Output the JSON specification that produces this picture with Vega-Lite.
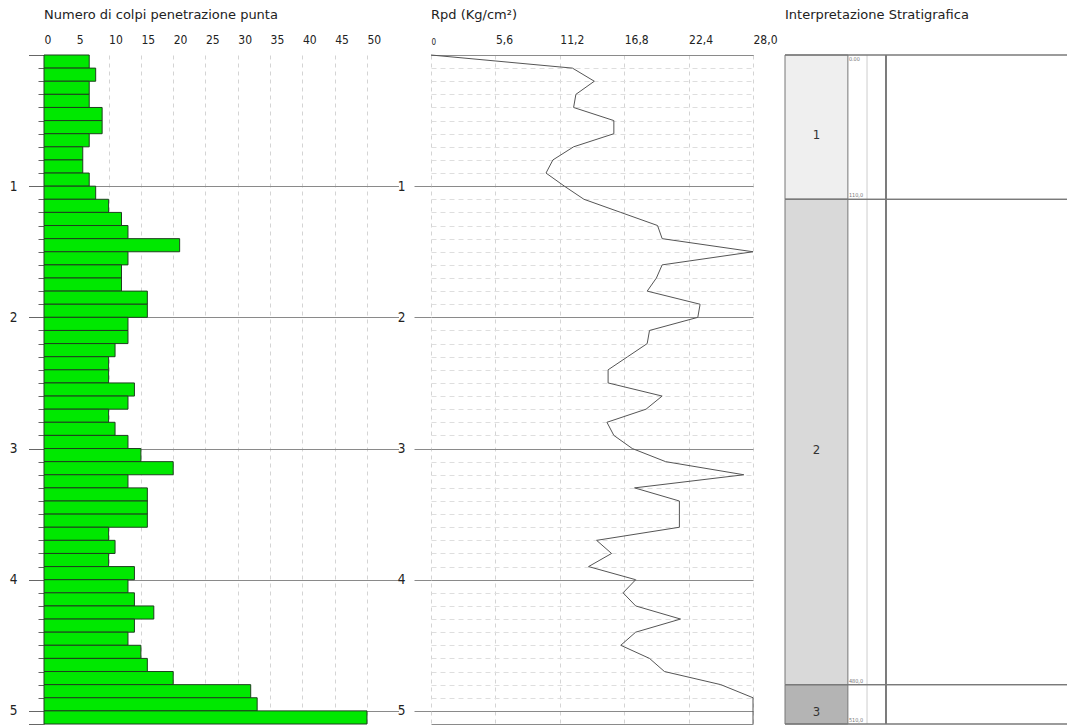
{
  "$schema": "https://vega.github.io/schema/vega-lite/v6.json",
  "background": "white",
  "padding": {"left": 9, "top": 9, "right": 0, "bottom": 0},
  "spacing": 32,
  "bounds": "flush",
  "config": {
    "view": {"stroke": null},
    "font": "DejaVu Sans Condensed",
    "title": {"font": "DejaVu Sans", "fontSize": 13, "fontWeight": "normal", "anchor": "start", "frame": "group", "color": "#222222"},
    "axis": {"labelFont": "DejaVu Sans Condensed", "labelColor": "#222222", "labelFontSize": 12, "tickCount": 60}
  },
  "datasets": {
    "colpi": [
      {"top": 0.0, "bottom": 0.1, "n": 7}, {"top": 0.1, "bottom": 0.2, "n": 8}, {"top": 0.2, "bottom": 0.3, "n": 7},
      {"top": 0.3, "bottom": 0.4, "n": 7}, {"top": 0.4, "bottom": 0.5, "n": 9}, {"top": 0.5, "bottom": 0.6, "n": 9},
      {"top": 0.6, "bottom": 0.7, "n": 7}, {"top": 0.7, "bottom": 0.8, "n": 6}, {"top": 0.8, "bottom": 0.9, "n": 6},
      {"top": 0.9, "bottom": 1.0, "n": 7}, {"top": 1.0, "bottom": 1.1, "n": 8}, {"top": 1.1, "bottom": 1.2, "n": 10},
      {"top": 1.2, "bottom": 1.3, "n": 12}, {"top": 1.3, "bottom": 1.4, "n": 13}, {"top": 1.4, "bottom": 1.5, "n": 21},
      {"top": 1.5, "bottom": 1.6, "n": 13}, {"top": 1.6, "bottom": 1.7, "n": 12}, {"top": 1.7, "bottom": 1.8, "n": 12},
      {"top": 1.8, "bottom": 1.9, "n": 16}, {"top": 1.9, "bottom": 2.0, "n": 16}, {"top": 2.0, "bottom": 2.1, "n": 13},
      {"top": 2.1, "bottom": 2.2, "n": 13}, {"top": 2.2, "bottom": 2.3, "n": 11}, {"top": 2.3, "bottom": 2.4, "n": 10},
      {"top": 2.4, "bottom": 2.5, "n": 10}, {"top": 2.5, "bottom": 2.6, "n": 14}, {"top": 2.6, "bottom": 2.7, "n": 13},
      {"top": 2.7, "bottom": 2.8, "n": 10}, {"top": 2.8, "bottom": 2.9, "n": 11}, {"top": 2.9, "bottom": 3.0, "n": 13},
      {"top": 3.0, "bottom": 3.1, "n": 15}, {"top": 3.1, "bottom": 3.2, "n": 20}, {"top": 3.2, "bottom": 3.3, "n": 13},
      {"top": 3.3, "bottom": 3.4, "n": 16}, {"top": 3.4, "bottom": 3.5, "n": 16}, {"top": 3.5, "bottom": 3.6, "n": 16},
      {"top": 3.6, "bottom": 3.7, "n": 10}, {"top": 3.7, "bottom": 3.8, "n": 11}, {"top": 3.8, "bottom": 3.9, "n": 10},
      {"top": 3.9, "bottom": 4.0, "n": 14}, {"top": 4.0, "bottom": 4.1, "n": 13}, {"top": 4.1, "bottom": 4.2, "n": 14},
      {"top": 4.2, "bottom": 4.3, "n": 17}, {"top": 4.3, "bottom": 4.4, "n": 14}, {"top": 4.4, "bottom": 4.5, "n": 13},
      {"top": 4.5, "bottom": 4.6, "n": 15}, {"top": 4.6, "bottom": 4.7, "n": 16}, {"top": 4.7, "bottom": 4.8, "n": 20},
      {"top": 4.8, "bottom": 4.9, "n": 32}, {"top": 4.9, "bottom": 5.0, "n": 33}, {"top": 5.0, "bottom": 5.1, "n": 50}
    ],
    "rpd": [
      {"depth": 0.0, "rpd": 0}, {"depth": 0.1, "rpd": 12.3}, {"depth": 0.2, "rpd": 14.2}, {"depth": 0.3, "rpd": 12.6},
      {"depth": 0.4, "rpd": 12.4}, {"depth": 0.5, "rpd": 15.9}, {"depth": 0.6, "rpd": 15.9}, {"depth": 0.7, "rpd": 12.4},
      {"depth": 0.8, "rpd": 10.6}, {"depth": 0.9, "rpd": 10.0}, {"depth": 1.0, "rpd": 11.6}, {"depth": 1.1, "rpd": 13.3},
      {"depth": 1.2, "rpd": 16.5}, {"depth": 1.3, "rpd": 19.7}, {"depth": 1.4, "rpd": 20.1}, {"depth": 1.5, "rpd": 28.0},
      {"depth": 1.6, "rpd": 20.1}, {"depth": 1.7, "rpd": 19.6}, {"depth": 1.8, "rpd": 18.8}, {"depth": 1.9, "rpd": 23.4},
      {"depth": 2.0, "rpd": 23.2}, {"depth": 2.1, "rpd": 19.0}, {"depth": 2.2, "rpd": 18.8}, {"depth": 2.3, "rpd": 17.1},
      {"depth": 2.4, "rpd": 15.4}, {"depth": 2.5, "rpd": 15.4}, {"depth": 2.6, "rpd": 20.1}, {"depth": 2.7, "rpd": 18.7},
      {"depth": 2.8, "rpd": 15.3}, {"depth": 2.9, "rpd": 15.9}, {"depth": 3.0, "rpd": 17.5}, {"depth": 3.1, "rpd": 20.4},
      {"depth": 3.2, "rpd": 27.2}, {"depth": 3.3, "rpd": 17.7}, {"depth": 3.4, "rpd": 21.6}, {"depth": 3.5, "rpd": 21.6},
      {"depth": 3.6, "rpd": 21.6}, {"depth": 3.7, "rpd": 14.4}, {"depth": 3.8, "rpd": 15.7}, {"depth": 3.9, "rpd": 13.7},
      {"depth": 4.0, "rpd": 17.8}, {"depth": 4.1, "rpd": 16.7}, {"depth": 4.2, "rpd": 17.8}, {"depth": 4.3, "rpd": 21.7},
      {"depth": 4.4, "rpd": 17.8}, {"depth": 4.5, "rpd": 16.5}, {"depth": 4.6, "rpd": 19.0}, {"depth": 4.7, "rpd": 20.3},
      {"depth": 4.8, "rpd": 25.2}, {"depth": 4.9, "rpd": 28.0}, {"depth": 5.0, "rpd": 28.0}, {"depth": 5.1, "rpd": 28.0}
    ],
    "strati": [
      {"strato": "1", "top": 0, "bottom": 1.1, "quota": "110,0", "quota_top": "0.00"},
      {"strato": "2", "top": 1.1, "bottom": 4.8, "quota": "480,0", "quota_top": ""},
      {"strato": "3", "top": 4.8, "bottom": 5.1, "quota": "510,0", "quota_top": ""}
    ]
  },
  "hconcat": [
    {
      "width": 354.5,
      "height": 669,
      "title": {"text": "Numero di colpi penetrazione punta", "offset": 11},
      "layer": [
        {
          "data": {"name": "colpi"},
          "mark": {"type": "bar", "fill": "#00e800", "stroke": "#1f3f1f", "strokeWidth": 1},
          "encoding": {
            "x": {
              "field": "n", "type": "quantitative",
              "scale": {"domain": [0, 54.88], "nice": false, "zero": true},
              "axis": {
                "orient": "top", "title": null, "values": [0, 5, 10, 15, 20, 25, 30, 35, 40, 45, 50],
                "tickCount": 60,
                "labelAlign": "left", "labelPadding": 9, "ticks": false, "domain": false,
                "labelOverlap": false, "labelFlush": false,
                "grid": true, "gridColor": "#d4d4d4", "gridDash": [4, 4]
              }
            },
            "x2": {"datum": 0},
            "y": {
              "field": "top", "type": "quantitative",
              "scale": {"domain": [0, 5.1], "reverse": true, "nice": false, "zero": false},
              "axis": {
                "orient": "left", "title": null,
                "values": [0,0.1,0.2,0.3,0.4,0.5,0.6,0.7,0.8,0.9,1,1.1,1.2,1.3,1.4,1.5,1.6,1.7,1.8,1.9,2,2.1,2.2,2.3,2.4,2.5,2.6,2.7,2.8,2.9,3,3.1,3.2,3.3,3.4,3.5,3.6,3.7,3.8,3.9,4,4.1,4.2,4.3,4.4,4.5,4.6,4.7,4.8,4.9,5,5.1],
                "tickCount": 60,
                "labelExpr": "datum.value % 1 === 0 && datum.value > 0 ? '' + datum.value : ''",
                "labelOverlap": false, "labelFlush": false, "labelFontSize": 13.5,
                "labelPadding": -4, "domain": false,
                "tickSize": 31, "tickColor": "#666666",
                "tickDash": {"condition": {"test": "datum.value % 1 !== 0 && datum.value !== 5.1", "value": [6, 40]}, "value": [15.5, 40]},
                "grid": true,
                "gridColor": "#8a8a8a",
                "gridOpacity": {"condition": {"test": "datum.value % 1 === 0 && datum.value > 0", "value": 1}, "value": 0}
              }
            },
            "y2": {"field": "bottom"}
          }
        },
        {
          "mark": {"type": "rule", "color": "#8a8a8a", "strokeWidth": 1},
          "encoding": {
            "x": {"datum": -4.7, "type": "quantitative"},
            "x2": {"datum": 50},
            "y": {"datum": 0, "type": "quantitative"}
          }
        }
      ]
    },
    {
      "width": 322,
      "height": 669,
      "title": {"text": "Rpd (Kg/cm²)", "offset": 11},
      "data": {"name": "rpd"},
      "mark": {"type": "line", "color": "#555555", "strokeWidth": 1},
      "encoding": {
        "x": {
          "field": "rpd", "type": "quantitative",
          "scale": {"domain": [0, 28], "nice": false, "zero": true},
          "axis": {
            "orient": "top", "title": null, "values": [0, 5.6, 11.2, 16.8, 22.4, 28],
            "tickCount": 60,
            "labelExpr": "datum.value === 0 ? '0' : replace(format(datum.value, '.1f'), '.', ',')",
            "labelFontSize": {"condition": {"test": "datum.value === 0", "value": 8}, "value": 12},
            "labelAlign": "left", "labelPadding": 9, "ticks": false,
            "labelOverlap": false, "labelFlush": false,
            "domain": true, "domainColor": "#8a8a8a",
            "grid": true, "gridColor": "#d4d4d4", "gridDash": [4, 4]
          }
        },
        "y": {
          "field": "depth", "type": "quantitative",
          "scale": {"domain": [0, 5.1], "reverse": true, "nice": false, "zero": false},
          "axis": {
            "orient": "left", "title": null,
            "values": [0,0.1,0.2,0.3,0.4,0.5,0.6,0.7,0.8,0.9,1,1.1,1.2,1.3,1.4,1.5,1.6,1.7,1.8,1.9,2,2.1,2.2,2.3,2.4,2.5,2.6,2.7,2.8,2.9,3,3.1,3.2,3.3,3.4,3.5,3.6,3.7,3.8,3.9,4,4.1,4.2,4.3,4.4,4.5,4.6,4.7,4.8,4.9,5,5.1],
            "tickCount": 60,
            "labelExpr": "datum.value % 1 === 0 && datum.value > 0 ? '' + datum.value : ''",
            "labelOverlap": false, "labelFlush": false, "labelFontSize": 13.5,
            "labelPadding": 9, "domain": false,
            "tickSize": 17, "tickColor": "#8a8a8a",
            "tickOpacity": {"condition": {"test": "datum.value % 1 === 0 && datum.value > 0", "value": 1}, "value": 0},
            "grid": true,
            "gridColor": {"condition": {"test": "datum.value % 1 === 0 || datum.value === 5.1", "value": "#8a8a8a"}, "value": "#dedede"},
            "gridDash": {"condition": {"test": "datum.value % 1 === 0 || datum.value === 5.1", "value": []}, "value": [5, 4]}
          }
        },
        "order": {"field": "depth", "type": "quantitative"}
      }
    },
    {
      "width": 282,
      "height": 669,
      "title": {"text": "Interpretazione Stratigrafica", "offset": 32},
      "data": {"name": "strati"},
      "layer": [
        {
          "mark": {"type": "rect", "stroke": "#777777", "strokeWidth": 1},
          "encoding": {
            "x": {"datum": 0, "type": "quantitative", "scale": {"domain": [0, 100], "nice": false, "zero": false}, "axis": null},
            "x2": {"datum": 22.3},
            "y": {"field": "top", "type": "quantitative", "scale": {"domain": [0, 5.1], "reverse": true, "nice": false, "zero": false}, "axis": null},
            "y2": {"field": "bottom"},
            "fill": {"field": "strato", "type": "nominal", "scale": {"domain": ["1", "2", "3"], "range": ["#efefef", "#d9d9d9", "#b4b4b4"]}, "legend": null}
          }
        },
        {
          "transform": [{"calculate": "(datum.top + datum.bottom) / 2", "as": "mid"}],
          "mark": {"type": "text", "baseline": "top", "align": "center", "fontSize": 13, "color": "#333333", "dy": 2},
          "encoding": {
            "x": {"datum": 11.2, "type": "quantitative"},
            "y": {"field": "mid", "type": "quantitative"},
            "text": {"field": "strato"}
          }
        },
        {
          "mark": {"type": "text", "baseline": "bottom", "align": "left", "fontSize": 5.5, "color": "#777777", "dx": 1, "dy": -1},
          "encoding": {
            "x": {"datum": 22.3, "type": "quantitative"},
            "y": {"field": "bottom", "type": "quantitative"},
            "text": {"field": "quota"}
          }
        },
        {
          "mark": {"type": "text", "baseline": "top", "align": "left", "fontSize": 5.5, "color": "#777777", "dx": 1, "dy": 2},
          "encoding": {
            "x": {"datum": 22.3, "type": "quantitative"},
            "y": {"field": "top", "type": "quantitative"},
            "text": {"field": "quota_top"}
          }
        },
        {
          "mark": {"type": "rule", "color": "#e2e2e2", "strokeWidth": 1},
          "encoding": {
            "x": {"datum": 29.1, "type": "quantitative"},
            "y": {"datum": 0, "type": "quantitative"},
            "y2": {"datum": 5.1}
          }
        },
        {
          "mark": {"type": "rule", "color": "#7a7a7a", "strokeWidth": 1.5},
          "encoding": {
            "x": {"datum": 35.8, "type": "quantitative"},
            "y": {"datum": 0, "type": "quantitative"},
            "y2": {"datum": 5.1}
          }
        },
        {
          "mark": {"type": "rule", "color": "#7a7a7a", "strokeWidth": 1.3},
          "encoding": {
            "x": {"datum": 0, "type": "quantitative"},
            "x2": {"datum": 100},
            "y": {"field": "bottom", "type": "quantitative"}
          }
        },
        {
          "mark": {"type": "rule", "color": "#7a7a7a", "strokeWidth": 1.3},
          "encoding": {
            "x": {"datum": 0, "type": "quantitative"},
            "x2": {"datum": 100},
            "y": {"field": "top", "type": "quantitative"}
          }
        }
      ]
    }
  ]
}
